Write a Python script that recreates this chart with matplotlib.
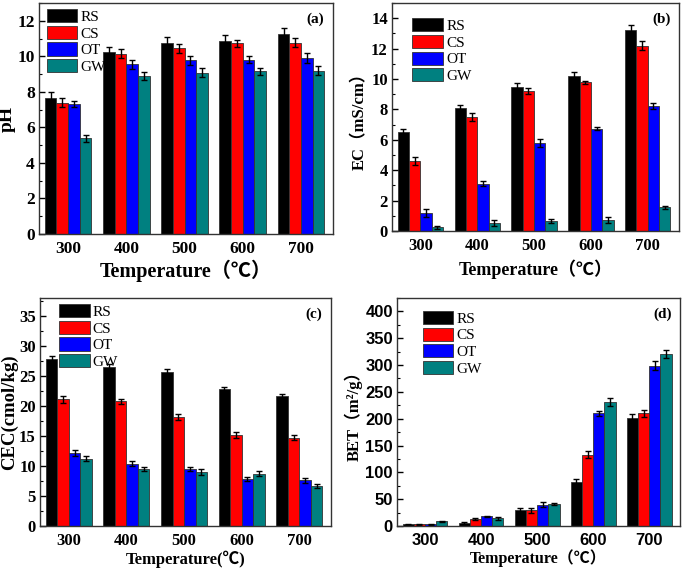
import matplotlib
matplotlib.use("Agg")
import matplotlib.pyplot as plt
import numpy as np
from matplotlib.ticker import MultipleLocator

temps = ["300", "400", "500", "600", "700"]
series = ["RS", "CS", "OT", "GW"]
colors = ["#000000", "#FF0000", "#0000FF", "#008080"]

ph_vals = {
    "RS": [7.68, 10.23, 10.73, 10.88, 11.27],
    "CS": [7.40, 10.14, 10.46, 10.73, 10.77],
    "OT": [7.31, 9.54, 9.77, 9.80, 9.90],
    "GW": [5.38, 8.89, 9.08, 9.17, 9.20],
}
ph_err = {
    "RS": [0.33, 0.28, 0.33, 0.33, 0.35],
    "CS": [0.25, 0.25, 0.25, 0.20, 0.25],
    "OT": [0.15, 0.28, 0.25, 0.20, 0.28],
    "GW": [0.20, 0.25, 0.27, 0.20, 0.27],
}

ec_vals = {
    "RS": [6.5, 8.06, 9.47, 10.18, 13.2],
    "CS": [4.6, 7.49, 9.2, 9.8, 12.2],
    "OT": [1.18, 3.12, 5.78, 6.74, 8.2],
    "GW": [0.24, 0.50, 0.64, 0.72, 1.55],
}
ec_err = {
    "RS": [0.2, 0.25, 0.25, 0.25, 0.35],
    "CS": [0.25, 0.25, 0.2, 0.1, 0.3],
    "OT": [0.25, 0.15, 0.25, 0.1, 0.2],
    "GW": [0.12, 0.2, 0.12, 0.22, 0.12],
}

cec_vals = {
    "RS": [27.8, 26.5, 25.7, 22.85, 21.6],
    "CS": [21.1, 20.8, 18.2, 15.2, 14.75],
    "OT": [12.2, 10.4, 9.5, 7.9, 7.6],
    "GW": [11.2, 9.5, 9.0, 8.7, 6.7],
}
cec_err = {
    "RS": [0.6, 0.5, 0.4, 0.4, 0.35],
    "CS": [0.6, 0.4, 0.5, 0.45, 0.4],
    "OT": [0.5, 0.4, 0.35, 0.35, 0.4],
    "GW": [0.4, 0.4, 0.45, 0.4, 0.3],
}

bet_vals = {
    "RS": [3, 6, 29, 82, 202],
    "CS": [3, 13, 29, 133, 210],
    "OT": [3, 18, 40, 210, 299],
    "GW": [9, 14, 41, 231, 321],
}
bet_err = {
    "RS": [0.5, 2, 5, 6, 6],
    "CS": [0.5, 1, 5, 7, 7],
    "OT": [0.5, 1, 4, 5, 9],
    "GW": [1, 3, 2, 8, 8],
}

SERIF = ["Liberation Serif", "Noto Sans CJK SC", "DejaVu Sans"]
SANS = ["Liberation Sans", "DejaVu Sans"]

fig = plt.figure(figsize=(6.85, 5.71), dpi=100)

W, H = 685, 571
def rect(l, t, r, b):
    return [l / W, 1 - b / H, (r - l) / W, (b - t) / H]

panels = [
    dict(rect=rect(39, 3, 333, 234), vals=ph_vals, err=ph_err, ylim=(0, 13), major=2, minor=1,
         ylabel="pH", ylsize=14, xlabel="Temperature（℃）", xlsize=14.5, ticksize=12.5,
         tickfam=SERIF, tag="(a)", leg_anchor=(0.005, 1.0), xlpad=2, ylpad=1),
    dict(rect=rect(392, 3, 679, 231), vals=ec_vals, err=ec_err, ylim=(0, 15), major=2, minor=1,
         ylabel="EC（mS/cm）", ylsize=12, xlabel="Temperature（℃）", xlsize=13, ticksize=12,
         tickfam=SERIF, tag="(b)", leg_anchor=(0.05, 0.96), xlpad=4, ylpad=2),
    dict(rect=rect(40, 298, 331, 526), vals=cec_vals, err=cec_err, ylim=(0, 38), major=5, minor=2.5,
         ylabel="CEC(cmol/kg)", ylsize=13.5, xlabel="Temperature(℃)", xlsize=12, ticksize=12,
         tickfam=SERIF, tag="(c)", leg_anchor=(0.045, 1.0), xlpad=1, ylpad=1),
    dict(rect=rect(397, 298, 680, 526), vals=bet_vals, err=bet_err, ylim=(0, 425), major=50, minor=25,
         ylabel="BET（m²/g）", ylsize=12, xlabel="Temperature（℃）", xlsize=11.5, ticksize=12,
         tickfam=SANS, tag="(d)", leg_anchor=(0.07, 0.97), xlpad=1, ylpad=2),
]

x = np.arange(len(temps))
bw = 0.2
for p in panels:
    ax = fig.add_axes(p["rect"])
    for i, s in enumerate(series):
        ax.bar(x + (i - 1.5) * bw, p["vals"][s], bw, yerr=p["err"][s], color=colors[i],
               edgecolor="#333333", linewidth=0.6, label=s,
               error_kw=dict(ecolor="black", elinewidth=1.0, capsize=2.5, capthick=1.0))
    ax.set_xlim(-0.5, 4.55)
    ax.set_ylim(*p["ylim"])
    ax.set_xticks(x)
    ax.set_xticklabels(temps)
    ax.yaxis.set_major_locator(MultipleLocator(p["major"]))
    ax.yaxis.set_minor_locator(MultipleLocator(p["minor"]))
    ax.tick_params(axis="y", which="major", direction="in", length=4, width=1, pad=3)
    ax.tick_params(axis="y", which="minor", direction="in", length=2, width=0.8)
    ax.tick_params(axis="x", length=0, pad=5)
    for lab in ax.get_xticklabels() + ax.get_yticklabels():
        lab.set_fontfamily(p["tickfam"])
        lab.set_fontweight("bold")
        lab.set_fontsize(p["ticksize"])
    for sp in ax.spines.values():
        sp.set_linewidth(1.0)
        sp.set_color("#333333")
    ax.set_ylabel(p["ylabel"], family=SERIF, fontweight="bold", fontsize=p["ylsize"], labelpad=p["ylpad"])
    ax.set_xlabel(p["xlabel"], family=SERIF, fontweight="bold", fontsize=p["xlsize"], labelpad=p["xlpad"])
    ax.text(0.97, 0.93, p["tag"], transform=ax.transAxes, ha="right", va="center",
            family=SERIF, fontweight="bold", fontsize=11)
    ax.legend(loc="upper left", bbox_to_anchor=p["leg_anchor"], frameon=False,
              prop=dict(family=SERIF, size=11), handlelength=2.0, handleheight=0.95,
              labelspacing=0.12, handletextpad=0.2, borderaxespad=0.2, borderpad=0.2)

fig.savefig("out.png", dpi=100)
